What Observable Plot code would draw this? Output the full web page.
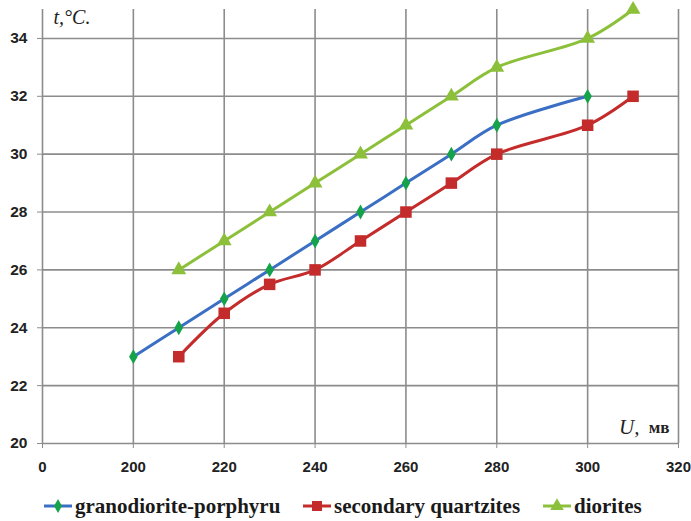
<!DOCTYPE html>
<html><head><meta charset="utf-8">
<script src="https://cdn.jsdelivr.net/npm/d3@7"></script>
<script src="https://cdn.jsdelivr.net/npm/@observablehq/plot@0.6"></script>
<style>
body{margin:0;background:#fff;}
#legend{position:relative;height:26px;width:691px;margin-top:13px;}
#legend .it{position:absolute;top:0;height:26px;display:flex;align-items:center;white-space:nowrap;}
#legend span{font-family:"Liberation Serif",serif;font-weight:bold;font-size:21px;color:#1a1a1a;}
#legend svg{margin-right:3px;}
</style></head>
<body><div id="chart"></div><div id="legend"></div>
<script>
const xGrano = [200,210,220,230,240,250,260,270,280,300];
const yGrano = [23,24,25,26,27,28,29,30,31,32];
const xQuartz = [210,220,230,240,250,260,270,280,300,310];
const yQuartz = [23,24.5,25.5,26,27,28,29,30,31,32];
const xDior = [210,220,230,240,250,260,270,280,300,310];
const yDior = [26,27,28,29,30,31,32,33,34,35];
const seriesNames = ["granodiorite-porphyru","secondary quartzites","diorites"];
const xTicks = [180,200,220,240,260,280,300,320];
const xTickLabels = ["0","200","220","240","260","280","300","320"];
const yTicks = [20,22,24,26,28,30,32,34];

const colors = {line:["#3a6fc4","#c42b2b","#8cc03a"], mark:["#14a24a","#c42b2b","#8cc03a"]};
const symbols = ["diamond","square","triangle"];
const rs = [4.5,6.5,5.5];
const toRows = (xs,ys)=>xs.map((x,i)=>({x,y:ys[i]}));
const sets = [toRows(xGrano,yGrano),toRows(xQuartz,yQuartz),toRows(xDior,yDior)];
const tickFont = "'Liberation Sans Narrow','Liberation Sans',sans-serif";

const marks = [
  Plot.gridX(xTicks,{stroke:"#8c8c8c",strokeOpacity:1,strokeWidth:1.6}),
  Plot.gridY(yTicks,{stroke:"#8c8c8c",strokeOpacity:1,strokeWidth:1.6}),
  Plot.axisX(xTicks,{label:null,tickFormat:d=>xTickLabels[xTicks.indexOf(d)],tickSize:5,tickPadding:13,stroke:"#8c8c8c",fontSize:15,fontWeight:"bold",fill:"#222",fontFamily:tickFont}),
  Plot.axisY(yTicks,{label:null,tickSize:5,tickPadding:10,stroke:"#8c8c8c",fontSize:15.5,fontWeight:"bold",fill:"#222",fontFamily:tickFont}),
];
sets.forEach((rows,i)=>{
  marks.push(Plot.line(rows,{x:"x",y:"y",stroke:colors.line[i],strokeWidth:3,curve:"catmull-rom"}));
  marks.push(Plot.dot(rows,{x:"x",y:"y",symbol:()=>symbols[i],r:rs[i],fill:colors.mark[i],stroke:"none"}));
});
marks.push(Plot.text(["t,°C."],{frameAnchor:"top-left",dx:11,dy:0,fontStyle:"italic",fontSize:20,fontFamily:"'Liberation Serif',serif",fill:"#222",textAnchor:"start"}));
marks.push(Plot.text(["U,"],{frameAnchor:"bottom-right",dx:-39,dy:-10,fontStyle:"italic",fontSize:21,fontFamily:"'Liberation Serif',serif",fill:"#222",textAnchor:"end"}));
marks.push(Plot.text(["мв"],{frameAnchor:"bottom-right",dx:-9,dy:-11,fontSize:17,fontWeight:"bold",fontFamily:"'Liberation Serif',serif",fill:"#222",textAnchor:"end"}));

const chart = Plot.plot({
  width:691,height:480,
  marginLeft:42,marginRight:13,marginTop:9,marginBottom:37,
  x:{type:"linear",domain:[180,320],axis:null},
  y:{domain:[20,35],axis:null},
  symbol:{type:"identity"},
  marks
});
document.getElementById("chart").appendChild(chart);
const lg = document.getElementById("legend");
const lefts = [44,303,543];
seriesNames.forEach((n,i)=>{
  const it=document.createElement("div");it.className="it";it.style.left=lefts[i]+"px";
  const sym = d3.symbol(i===0?d3.symbolDiamond:i===1?d3.symbolSquare:d3.symbolTriangle, i===0?55:i===1?100:80)();
  it.innerHTML=`<svg width="28" height="16"><line x1="0" x2="28" y1="8" y2="8" stroke="${colors.line[i]}" stroke-width="3"/><path d="${sym}" transform="translate(14,8)" fill="${colors.mark[i]}"/></svg><span>${n}</span>`;
  lg.appendChild(it);
});
</script></body></html>
